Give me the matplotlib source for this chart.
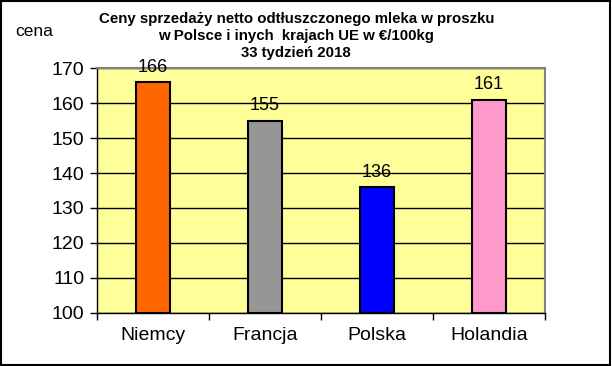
import matplotlib
matplotlib.use("Agg")
import matplotlib.pyplot as plt
import numpy as np

categories = ["Niemcy", "Francja", "Polska", "Holandia"]
values = [166, 155, 136, 161]
colors = ["#FF6600", "#969696", "#0000FF", "#FF99CC"]
yticks = [100, 110, 120, 130, 140, 150, 160, 170]
title = "Ceny sprzedaży netto odtłuszczonego mleka w proszku\nw Polsce i inych  krajach UE w €/100kg\n33 tydzień 2018"

plt.rcParams['font.family'] = ['Liberation Sans', 'DejaVu Sans']

fig = plt.figure(figsize=(6.12, 3.66), dpi=100)
fig.patch.set_facecolor("white")
ax = fig.add_axes([0.1585, 0.145, 0.732, 0.669])
ax.set_facecolor("#FFFF99")

x = np.arange(len(categories))
ax.bar(x, np.array(values) - 100, bottom=100, width=0.30, color=colors,
       edgecolor="black", linewidth=1.5, zorder=3)
for xi, v in zip(x, values):
    ax.text(xi, v + 1.8, str(v), ha="center", va="bottom", fontsize=13, zorder=4)

ax.set_xlim(-0.5, len(categories) - 0.5)
ax.set_ylim(100, 170)
ax.set_yticks(yticks)
ax.set_yticklabels([str(t) for t in yticks], fontsize=14)
ax.yaxis.grid(True, color="black", linewidth=1, zorder=1)
ax.set_axisbelow(True)
ax.set_xticks(x)
ax.set_xticklabels(categories, fontsize=14)
ax.tick_params(axis="x", which="major", length=0, pad=10)
ax.set_xticks(np.arange(-0.5, len(categories)), minor=True)
ax.tick_params(axis="x", which="minor", length=5, width=1, color="black")
ax.tick_params(axis="y", length=5, width=1, color="black", pad=4)

for s in ["left", "bottom"]:
    ax.spines[s].set_color("black")
    ax.spines[s].set_linewidth(1)
for s in ["top", "right"]:
    ax.spines[s].set_color("#808080")
    ax.spines[s].set_linewidth(1.5)

fig.text(0.484, 0.968, title, ha="center", va="top", fontsize=10.8,
         fontweight="bold", linespacing=1.3)
fig.text(0.025, 0.915, "cena", ha="left", va="center", fontsize=12.5)

fig.add_artist(plt.Rectangle((0.002, 0.003), 0.995, 0.993, transform=fig.transFigure,
                             fill=False, edgecolor="black", linewidth=1.5))

fig.savefig("out.png", dpi=100)
